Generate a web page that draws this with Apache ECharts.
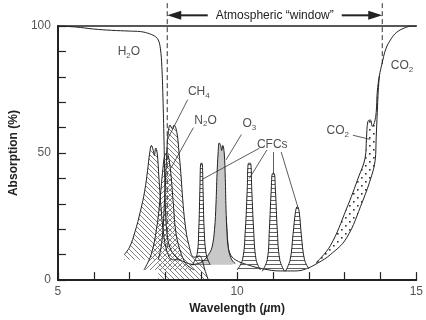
<!DOCTYPE html>
<html>
<head>
<meta charset="utf-8">
<script src="https://cdn.jsdelivr.net/npm/echarts@6/dist/echarts.min.js"></script>
<style>
  html, body { margin: 0; padding: 0; background: #fff; }
  #chart { width: 426px; height: 320px; }
</style>
</head>
<body>
<div id="chart"></div>
<script>
// [wavelength (um), absorption (%)]
const h2o = [[5, 100], [5.5, 99.6], [6, 98.8], [6.5, 98.3], [7, 98], [7.3, 97.8], [7.5, 97.2], [7.7, 96],
  [7.8, 94.5], [7.86, 91], [7.9, 84], [7.93, 72], [7.96, 55], [7.98, 40], [8.0, 28], [8.04, 19],
  [8.12, 13], [8.3, 9], [8.55, 7], [8.8, 6]];
const ch4Left = [[6.85, 10], [7.0, 13], [7.15, 19], [7.3, 27], [7.42, 35], [7.5, 43], [7.56, 50], [7.61, 53],
  [7.66, 51], [7.69, 49], [7.73, 52], [7.77, 50], [7.82, 40], [7.88, 28], [7.95, 18], [8.05, 11],
  [8.2, 8], [8.4, 8]];
const ch4Main = [[7.8, 8], [7.9, 15], [7.97, 30], [8.02, 45], [8.07, 57], [8.13, 61], [8.19, 59.5], [8.24, 61],
  [8.32, 58], [8.38, 50], [8.43, 42], [8.48, 32], [8.55, 22], [8.65, 14], [8.8, 9], [8.95, 9.5],
  [9.02, 8], [9.1, 4], [9.2, 0]];
const n2o = [[7.4, 4], [7.6, 10], [7.75, 20], [7.85, 32], [7.93, 44], [7.98, 49], [8.03, 50], [8.08, 49],
  [8.15, 42], [8.22, 30], [8.3, 18], [8.45, 10], [8.6, 6], [8.8, 4]];
const o3 = [[8.7, 6], [8.9, 6.5], [9.05, 7.5], [9.2, 10], [9.3, 13], [9.37, 20], [9.41, 30], [9.44, 42],
  [9.47, 50], [9.5, 54], [9.54, 53], [9.57, 51], [9.6, 53], [9.64, 50], [9.67, 40], [9.69, 28],
  [9.72, 18], [9.76, 12], [9.85, 8], [9.95, 6.5]];
const cfcPeaks = [
  [[8.75, 6], [8.88, 10], [8.93, 20], [8.96, 35], [8.99, 46], [9.02, 46], [9.05, 35], [9.08, 20], [9.14, 10], [9.25, 6]],
  [[10.0, 4], [10.15, 8], [10.23, 20], [10.28, 35], [10.32, 46], [10.37, 46], [10.41, 35], [10.46, 20], [10.53, 8], [10.65, 4]],
  [[10.7, 3.5], [10.84, 8], [10.9, 20], [10.95, 35], [10.99, 42], [11.03, 42], [11.07, 35], [11.12, 20], [11.19, 8], [11.32, 3.5]],
  [[11.35, 3.5], [11.48, 8], [11.56, 18], [11.63, 27], [11.68, 29], [11.73, 27], [11.79, 18], [11.88, 8], [12.0, 4.5]]
];
const cfcBases = [6, 4, 3.5, 3.5];
const windowFloor = [[9.7, 25], [9.74, 15], [9.8, 10.5], [9.95, 8], [10.3, 6], [10.7, 4.5], [11.2, 3.6],
  [11.6, 3.6], [11.9, 4.3], [12.26, 6.8], [12.6, 10], [13.05, 16.5], [13.5, 31], [13.75, 41],
  [13.85, 47], [13.88, 56], [13.91, 66], [13.94, 75], [13.97, 80.5]];
const co2 = [[12.2, 6.8], [12.6, 13.5], [13.05, 28], [13.4, 41], [13.57, 48], [13.61, 56], [13.65, 62.5],
  [13.72, 63], [13.77, 60.5], [13.83, 62], [13.88, 66], [13.91, 74], [13.97, 80.5], [14.04, 85],
  [14.15, 91], [14.3, 95], [14.45, 97.5], [14.7, 99.4], [14.9, 100], [15, 100]];

// gas labels: text, x, y
const labelText = ['H{s|2}O', 'CH{s|4}', 'N{s|2}O', 'O{s|3}', 'CFCs', 'CO{s|2}', 'CO{s|2}'];
const labelX = [6.98, 8.93, 9.12, 10.34, 10.98, 12.81, 14.6];
const labelY = [89.8, 74.3, 62.9, 61.5, 53.3, 58.8, 84.2];

// leader lines [x1, y1, x2, y2]
const leaders = [
  [8.62, 71, 8.08, 56],
  [8.78, 60, 8.15, 44],
  [10.12, 57.3, 9.69, 47.3],
  [10.62, 51.9, 9.02, 39.6],
  [10.83, 51.2, 10.34, 40],
  [11.02, 50.4, 11.02, 41.5],
  [11.23, 50.4, 11.71, 28],
  [13.23, 57, 13.71, 55.4]
];

// atmospheric window annotation
const windowEdges = [8.05, 14.05];
const dashTop = 109;
const dashBottom = [12, 84];
const arrowLevel = 104.2;
const windowText = 'Atmospheric \u201Cwindow\u201D';

const FONT = '"Liberation Sans", Arial, Helvetica, sans-serif';

function pattern(kind) {
  const s = kind === 'dots' ? 8 : (kind === 'horiz' ? 4 : 5);
  const c = document.createElement('canvas');
  c.width = s; c.height = s;
  const g = c.getContext('2d');
  g.strokeStyle = '#808080';
  g.lineWidth = 1;
  g.beginPath();
  if (kind === 'back') {
    g.moveTo(-1, -1); g.lineTo(s + 1, s + 1);
    g.moveTo(-1, s - 1); g.lineTo(1, s + 1);
    g.moveTo(s - 1, -1); g.lineTo(s + 1, 1);
  } else if (kind === 'fwd') {
    g.moveTo(-1, s + 1); g.lineTo(s + 1, -1);
    g.moveTo(-1, 1); g.lineTo(1, -1);
    g.moveTo(s - 1, s + 1); g.lineTo(s + 1, s - 1);
  } else if (kind === 'horiz') {
    g.strokeStyle = '#606060';
    g.moveTo(0, 0.5); g.lineTo(s, 0.5);
  }
  g.stroke();
  if (kind === 'dots') {
    g.fillStyle = '#333';
    g.fillRect(1, 1, 1.6, 1.6);
    g.fillRect(5, 5, 1.6, 1.6);
  }
  return { image: c, repeat: 'repeat' };
}

const pat = {
  back: pattern('back'),
  fwd: pattern('fwd'),
  horiz: pattern('horiz'),
  dots: pattern('dots')
};

const curve = {
  type: 'line',
  smooth: 0.4,
  symbol: 'none',
  silent: true,
  lineStyle: { color: '#222', width: 1 }
};

const chart = echarts.init(document.getElementById('chart'));

const option = {
  animation: false,
  textStyle: { fontFamily: FONT },
  grid: { left: 46, right: 4, top: 26, bottom: 34 },
  xAxis: [
    {
      type: 'value', min: 5, max: 15, interval: 1, z: 10,
      name: 'Wavelength ({i|\u00B5}m)',
      nameLocation: 'middle',
      nameGap: 17,
      nameTextStyle: {
        fontSize: 12, fontWeight: 'bold', color: '#222', fontFamily: FONT,
        rich: { i: { fontSize: 12, fontWeight: 'bold', fontStyle: 'italic', color: '#222', fontFamily: FONT } }
      },
      axisLine: { lineStyle: { color: '#222', width: 2 } },
      axisTick: { inside: true, length: 8, lineStyle: { color: '#222', width: 1.2 } },
      axisLabel: { formatter: v => (v % 5 === 0 ? v : ''), color: '#555', fontSize: 12, margin: 6 },
      splitLine: { show: false }
    },
    {
      type: 'value', min: 5, max: 15, position: 'top', z: 10,
      axisLine: { show: true, lineStyle: { color: '#222', width: 1.5 } },
      axisTick: { show: false }, axisLabel: { show: false }, splitLine: { show: false }
    }
  ],
  yAxis: {
    type: 'value', min: 0, max: 100, interval: 10, z: 10,
    name: 'Absorption (%)',
    nameLocation: 'middle',
    nameGap: 35,
    nameTextStyle: { fontSize: 12, fontWeight: 'bold', color: '#222' },
    axisLine: { show: true, lineStyle: { color: '#222', width: 2 } },
    axisTick: { show: true, inside: true, length: 8, lineStyle: { color: '#222', width: 1.2 } },
    axisLabel: { formatter: v => (v % 50 === 0 ? v : ''), color: '#555', fontSize: 12, margin: 7 },
    splitLine: { show: false }
  },
  series: [
    { ...curve, name: 'CO2 band', data: co2.filter(p => p[0] <= 13.97),
      lineStyle: { width: 0 }, areaStyle: { color: pat.dots, opacity: 1 }, z: 1 },
    { ...curve, name: 'window', data: windowFloor, areaStyle: { color: '#fff', opacity: 1 }, z: 2 },
    { ...curve, name: 'O3', data: o3, areaStyle: { color: '#c8c8c8', opacity: 1, origin: 6 }, z: 3 },
    { ...curve, name: 'N2O', data: n2o, areaStyle: { color: pat.fwd, opacity: 1, origin: 4 }, z: 3 },
    { ...curve, name: 'CH4 a', data: ch4Left, areaStyle: { color: pat.back, opacity: 1, origin: 8 }, z: 3 },
    { ...curve, name: 'CH4 b', data: ch4Main, areaStyle: { color: pat.back, opacity: 1, origin: 0 }, z: 3 },
    ...cfcPeaks.map((d, i) => ({ ...curve, name: 'CFC ' + i, data: d,
      areaStyle: { color: pat.horiz, opacity: 1, origin: cfcBases[i] }, z: 3 })),
    { ...curve, name: 'H2O', data: h2o, z: 4 },
    { ...curve, name: 'CO2', data: co2, z: 4,
      markLine: {
        silent: true, symbol: 'none', animation: false,
        label: { show: false },
        lineStyle: { color: '#333', width: 0.8, type: 'solid' },
        data: leaders.map(l => [{ coord: [l[0], l[1]] }, { coord: [l[2], l[3]] }])
      } },
    {
      type: 'scatter', name: 'labels', silent: true, z: 6,
      symbolSize: 1, itemStyle: { color: 'rgba(0,0,0,0)' },
      data: labelX.map((x, i) => ({ value: [x, labelY[i]], name: labelText[i] })),
      label: {
        show: true, position: 'inside', formatter: p => p.name,
        color: '#222', fontSize: 12, lineHeight: 16, fontFamily: FONT,
        rich: { s: { fontSize: 8, lineHeight: 8, verticalAlign: 'bottom', color: '#222', fontFamily: FONT } }
      }
    }
  ]
};

chart.setOption(option);

// annotation above the plot, placed through the grid's own scales
const px = (x, y) => chart.convertToPixel({ gridIndex: 0 }, [x, y]);
const graphics = [];
windowEdges.forEach((x, i) => {
  const a = px(x, dashTop), b = px(x, dashBottom[i]);
  graphics.push({ type: 'line', silent: true, z: 20,
    shape: { x1: a[0], y1: a[1], x2: b[0], y2: b[1] },
    style: { stroke: '#333', lineWidth: 1, lineDash: [5, 3] } });
});
const l = px(windowEdges[0], arrowLevel), r = px(windowEdges[1], arrowLevel);
const mid = (l[0] + r[0]) / 2;
const halfText = 63;
graphics.push(
  { type: 'line', silent: true, z: 20, shape: { x1: l[0] + 10, y1: l[1], x2: mid - halfText - 4, y2: l[1] },
    style: { stroke: '#222', lineWidth: 2 } },
  { type: 'line', silent: true, z: 20, shape: { x1: mid + halfText + 4, y1: r[1], x2: r[0] - 10, y2: r[1] },
    style: { stroke: '#222', lineWidth: 2 } },
  { type: 'polygon', silent: true, z: 20, shape: { points: [[l[0], l[1]], [l[0] + 14, l[1] - 4.5], [l[0] + 14, l[1] + 4.5]] },
    style: { fill: '#222' } },
  { type: 'polygon', silent: true, z: 20, shape: { points: [[r[0], r[1]], [r[0] - 14, r[1] - 4.5], [r[0] - 14, r[1] + 4.5]] },
    style: { fill: '#222' } },
  { type: 'text', silent: true, z: 20,
    style: { text: windowText, x: mid, y: l[1], font: '12px ' + FONT, fill: '#222',
      textAlign: 'center', textVerticalAlign: 'middle', align: 'center', verticalAlign: 'middle' } }
);
chart.setOption({ graphic: graphics });
</script>
</body>
</html>
